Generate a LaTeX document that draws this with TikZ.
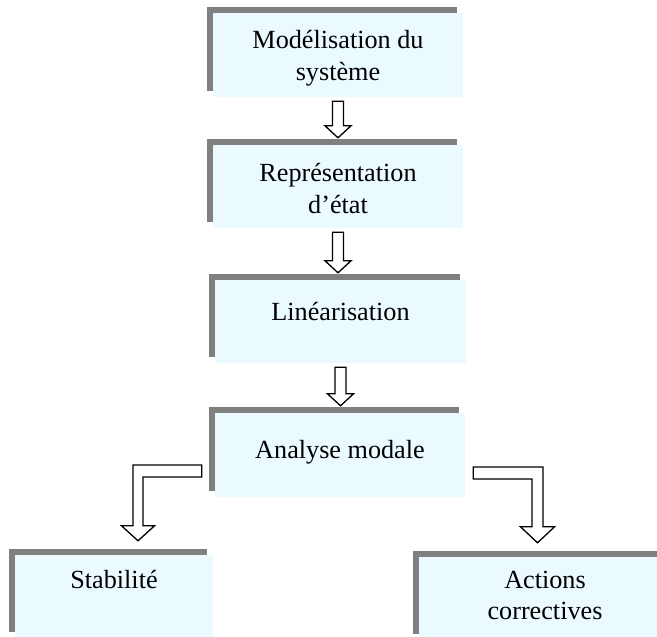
\documentclass[tikz,border=0pt]{standalone}
\usepackage{fontspec}
\setmainfont{Liberation Serif}
\usetikzlibrary{calc,shadows}
\definecolor{boxfill}{RGB}{234,250,255}
\definecolor{shadowgray}{RGB}{128,128,128}
\tikzset{
  stepbox/.style={rectangle, fill=boxfill, draw=none, inner sep=0pt,
    minimum width=250pt, minimum height=84pt,
    drop shadow={shadow xshift=-6pt, shadow yshift=6.5pt, fill=shadowgray, opacity=1}},
  boxtext/.style={anchor=base, align=center, inner sep=0pt,
    font=\fontsize{26.2}{32}\selectfont},
  blk/.style={draw=black, fill=white, line width=1.3pt, line join=miter},
}
% hollow block arrow pointing down from one box to the next
\newcommand{\downblock}[2]{%
  \draw[blk] ($(#1.south)+(-5.5,4)$)
    -- ($(#1.south |- #2.north)+(-5.5,-19)$)
    -- ($(#1.south |- #2.north)+(-13,-19)$)
    -- ($(#1.south |- #2.north)+(0,-7)$)
    -- ($(#1.south |- #2.north)+(13,-19)$)
    -- ($(#1.south |- #2.north)+(5.5,-19)$)
    -- ($(#1.south)+(5.5,4)$) -- cycle;}
\begin{document}
\begin{tikzpicture}[x=1pt,y=-1pt]
\useasboundingbox (0,0) rectangle (657,637);
\clip (0,0) rectangle (657,637);

% boxes
\node[stepbox] (b1) at (338,55) {};
\node[stepbox, minimum height=83pt] (b2) at (338,186.5) {};
\node[stepbox, minimum width=251pt, minimum height=83pt] (b3) at (340.5,321.5) {};
\node[stepbox] (b4) at (340,455) {};
\node[stepbox, minimum width=198pt, minimum height=83pt] (b5) at (114,596.5) {};
\node[stepbox, minimum width=252pt, minimum height=83pt] (b6) at (545,598.5) {};

% labels (base anchor sits on the last line)
\node[boxtext] (t1) at ($(b1.north)+(0,68)$) {Modélisation du\\système};
\node[boxtext] (t2) at ($(b2.north)+(0,69)$) {Représentation\\d’état};
\node[boxtext] (t3) at ($(b3.north)+(0,41)$) {Linéarisation};
\node[boxtext] (t4) at ($(b4.north)+(0,46)$) {Analyse modale};
\node[boxtext] (t5) at ($(b5.north)+(0,34)$) {Stabilité};
\node[boxtext, font=\fontsize{26.2}{31}\selectfont] (t6) at ($(b6.north)+(0,63)$) {Actions\\correctives};

% straight arrows
\downblock{b1}{b2}
\downblock{b2}{b3}
\downblock{b3}{b4}

% bent arrow to the left branch
\coordinate (lr) at ($(b4.west)+(-13,16)$);
\coordinate (lt) at ($(b5.north)+(24,-14)$);
\draw[blk] ($(lr)+(0,-6)$)
  -- ($(lt |- lr)+(-5,-6)$)
  -- ($(lt)+(-5,-15)$)
  -- ($(lt)+(-16.5,-15)$)
  -- (lt)
  -- ($(lt)+(16.5,-15)$)
  -- ($(lt)+(5,-15)$)
  -- ($(lt |- lr)+(5,6)$)
  -- ($(lr)+(0,6)$) -- cycle;

% bent arrow to the right branch
\coordinate (rl) at ($(b4.east)+(8,18)$);
\coordinate (rt) at ($(b6.north)+(-7.5,-14)$);
\draw[blk] ($(rl)+(0,-6)$)
  -- ($(rt |- rl)+(5.5,-6)$)
  -- ($(rt)+(5.5,-16)$)
  -- ($(rt)+(17,-16)$)
  -- (rt)
  -- ($(rt)+(-17,-16)$)
  -- ($(rt)+(-5.5,-16)$)
  -- ($(rt |- rl)+(-5.5,6)$)
  -- ($(rl)+(0,6)$) -- cycle;
\end{tikzpicture}
\end{document}
